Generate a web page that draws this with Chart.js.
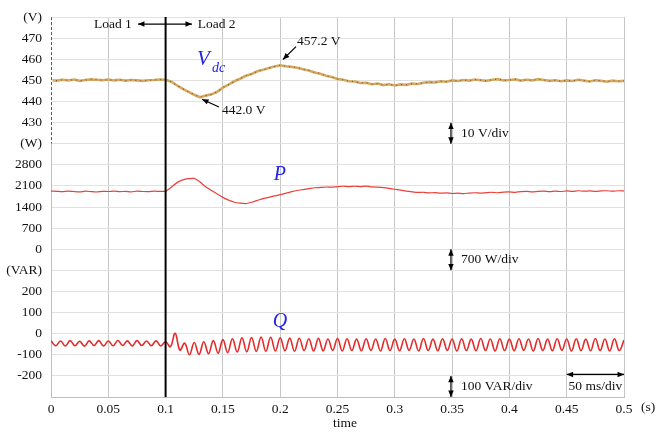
<!DOCTYPE html>
<html>
<head>
<meta charset="utf-8">
<title>Vdc, P and Q during a load change</title>
<script src="https://cdn.jsdelivr.net/npm/chart.js@4.4.1/dist/chart.umd.min.js"></script>
<style>
  html, body { margin: 0; padding: 0; background: #fff; }
  canvas { display: block; }
</style>
</head>
<body>
<canvas id="loadChart" width="656" height="434"></canvas>
<script>
// DC-link voltage (V), one sample every 5 ms from 0 to 0.5 s
const vdc = [
  450.1, 449.9, 450.3, 450.0, 450.4, 449.8, 450.2, 450.5, 450.3, 450.1,
  450.4, 450.0, 450.3, 449.9, 450.2, 450.0, 449.8, 450.1, 450.2, 450.4,
  450.3,
  449.4, 447.6, 446.0, 444.6, 443.2, 442.0, 442.8, 443.4, 444.6, 446.6,
  448.0, 449.6, 450.8, 452.2, 453.0, 454.3, 455.0, 455.9, 456.6, 457.2,
  456.7, 456.4, 456.0, 455.3, 454.7, 453.8, 453.2, 452.2, 451.6, 450.7,
  450.3, 449.6, 449.5, 448.8, 448.9, 448.2, 448.5, 447.8, 448.2, 447.6,
  448.1, 447.9, 448.5, 448.3, 448.9, 449.2, 449.0, 449.6, 449.4, 450.0,
  449.7, 450.2, 449.9, 450.4, 450.1, 449.8, 450.3, 450.6, 450.0, 450.2,
  450.5, 449.9, 450.3, 450.0, 450.6, 450.2, 449.8, 450.1, 449.6, 450.0,
  449.7, 450.3, 449.9, 449.5, 450.1, 449.8, 449.4, 449.9, 449.6, 449.8
];

// active power (W), same 5 ms sampling
const power = [
  1930, 1920, 1910, 1930, 1915, 1905, 1925, 1910, 1900, 1920,
  1915, 1930, 1910, 1920, 1905, 1925, 1915, 1910, 1925, 1920,
  1925,
  2060, 2210, 2300, 2340, 2350, 2230, 2070, 1950, 1830, 1720,
  1630, 1560, 1530, 1515, 1560, 1620, 1680, 1720, 1770, 1810,
  1860, 1910, 1950, 1980, 2010, 2040, 2050, 2065, 2060, 2080,
  2090, 2075, 2090, 2080, 2095, 2070, 2060, 2045, 2020, 1990,
  1960, 1930, 1905, 1885, 1890, 1870, 1880, 1860, 1870, 1850,
  1860, 1845, 1865, 1875, 1860, 1880, 1890, 1875, 1895, 1900,
  1890, 1910, 1920, 1900, 1920, 1930, 1910, 1925, 1915, 1935,
  1920, 1940, 1925, 1935, 1920, 1935, 1940, 1925, 1940, 1935
];

// reactive power (VAR): crest / trough of the 120 Hz ripple, every half period
const reactive = [
  -34, -57, -35, -58, -33, -57, -36, -59, -34, -56,
  -33, -58, -35, -57, -32, -56, -34, -58, -33, -56,
  -35, -57, -34, -58, -38,
  -62, 2, -78, -45, -100, -42, -98, -38, -95, -33,
  -92, -28, -90, -24, -87, -20, -86, -18, -84, -16,
  -83, -17, -82, -19, -81,
  -21, -83, -22, -80, -24, -82, -22, -81, -25, -79,
  -23, -82, -24, -80, -26, -81, -24, -79, -25, -82,
  -23, -80, -26, -81, -24, -79, -25, -82, -23, -80,
  -26, -81, -24, -79, -25, -82, -24, -80, -26, -81,
  -23, -80, -25, -82, -24, -80, -26, -81, -24, -79,
  -25, -82, -23, -80, -26, -81, -24, -79, -25, -82,
  -24, -80, -26, -81, -23, -80, -25, -82, -24, -80,
  -30
];

const sampleStep = 0.005;   // s, Vdc and P
const rippleStep = 1 / 240; // s, Q
const loadStep = 0.1;       // s, switch from load 1 to load 2

const timeTicks = ['0', '0.05', '0.1', '0.15', '0.2', '0.25', '0.3', '0.35', '0.4', '0.45', '0.5'];
// left axis text, one per grid row, from the bottom row to the top row
const rowLabels = ['', '-200', '-100', '0', '100', '200', '(VAR)', '0', '700', '1400', '2100',
  '2800', '(W)', '430', '440', '450', '460', '470', '(V)'];

const SERIF = '"Liberation Serif", "Times New Roman", serif';
const BLUE = '#2323e6';

const asPoints = (values, step) => values.map((v, i) => ({ x: i * step, y: v }));

function arrowHead(ctx, x1, y1, x2, y2, size) {
  const a = Math.atan2(y2 - y1, x2 - x1);
  ctx.beginPath();
  ctx.moveTo(x2, y2);
  ctx.lineTo(x2 - size * Math.cos(a - 0.4), y2 - size * Math.sin(a - 0.4));
  ctx.lineTo(x2 - size * Math.cos(a + 0.4), y2 - size * Math.sin(a + 0.4));
  ctx.closePath();
  ctx.fill();
}

function arrow(ctx, x1, y1, x2, y2, both) {
  ctx.beginPath();
  ctx.moveTo(x1, y1);
  ctx.lineTo(x2, y2);
  ctx.stroke();
  arrowHead(ctx, x1, y1, x2, y2, 7);
  if (both) arrowHead(ctx, x2, y2, x1, y1, 7);
}

// load switch line, arrows, trace names and scale notes
const overlay = {
  id: 'overlay',
  afterDatasetsDraw(chart) {
    const { ctx, scales } = chart;
    const X = t => scales.x.getPixelForValue(t);
    const Y = r => scales.row.getPixelForValue(r);
    ctx.save();

    // dashed left edge of the voltage band
    const x0 = Math.round(X(0)) + 0.5;
    ctx.fillStyle = '#fff';
    ctx.fillRect(x0 - 1, Y(18), 2, Y(12) - Y(18));
    ctx.strokeStyle = '#555';
    ctx.lineWidth = 1;
    ctx.setLineDash([3, 2]);
    ctx.beginPath();
    ctx.moveTo(x0, Y(18));
    ctx.lineTo(x0, Y(12));
    ctx.stroke();
    ctx.setLineDash([]);

    // load change
    ctx.strokeStyle = '#000';
    ctx.lineWidth = 2;
    ctx.beginPath();
    ctx.moveTo(X(loadStep), Y(18));
    ctx.lineTo(X(loadStep), Y(0));
    ctx.stroke();

    ctx.fillStyle = '#000';
    ctx.lineWidth = 1.2;
    arrow(ctx, X(0.0759), Y(17.67), X(0.123), Y(17.67), true);

    ctx.font = `13.5px ${SERIF}`;
    ctx.textBaseline = 'middle';
    ctx.fillStyle = '#111';
    ctx.textAlign = 'right';
    ctx.fillText('Load 1', X(0.0705), Y(17.67));
    ctx.textAlign = 'left';
    ctx.fillText('Load 2', X(0.128), Y(17.67));

    // extreme values of Vdc
    ctx.fillText('457.2 V', X(0.2147), Y(16.83));
    ctx.fillText('442.0 V', X(0.1492), Y(13.56));
    ctx.fillStyle = '#000';
    arrow(ctx, X(0.2138), Y(16.6), X(0.2024), Y(15.99), false);
    arrow(ctx, X(0.1466), Y(13.74), X(0.1318), Y(14.11), false);

    // per-division notes
    const xNote = X(0.349);
    arrow(ctx, xNote, Y(13), xNote, Y(12), true);
    arrow(ctx, xNote, Y(7), xNote, Y(6), true);
    arrow(ctx, xNote, Y(1), xNote, Y(0), true);
    arrow(ctx, X(0.45), Y(1.07), X(0.5), Y(1.07), true);
    ctx.fillStyle = '#111';
    ctx.fillText('10 V/div', X(0.3578), Y(12.5));
    ctx.fillText('700 W/div', X(0.3578), Y(6.5));
    ctx.fillText('100 VAR/div', X(0.3578), Y(0.5));
    ctx.textAlign = 'center';
    ctx.fillText('50 ms/div', X(0.475), Y(0.5));

    // axis unit and title
    ctx.fillText('(s)', X(0.521), Y(-0.51));
    ctx.fillText('time', X(0.2565), Y(-1.26));

    // trace names
    ctx.fillStyle = BLUE;
    ctx.textAlign = 'left';
    ctx.font = `italic 21px ${SERIF}`;
    ctx.fillText('V', X(0.1274), Y(15.99));
    ctx.font = `italic 14px ${SERIF}`;
    ctx.fillText('dc', X(0.1405), Y(15.55));
    ctx.textAlign = 'center';
    ctx.font = `italic 20px ${SERIF}`;
    ctx.fillText('P', X(0.1998), Y(10.52));
    ctx.fillText('Q', X(0.1998), Y(3.55));

    ctx.restore();
  }
};

new Chart(document.getElementById('loadChart'), {
  type: 'line',
  data: {
    datasets: [
      {
        // dark specks drawn over the tan trace
        label: 'Vdc samples',
        data: asPoints(vdc, sampleStep),
        yAxisID: 'yV',
        borderColor: '#7f5a2e',
        borderWidth: 1.2,
        borderDash: [1, 4],
        tension: 0
      },
      {
        label: 'Vdc',
        data: asPoints(vdc, sampleStep),
        yAxisID: 'yV',
        borderColor: '#d6a961',
        borderWidth: 2.6,
        tension: 0
      },
      {
        label: 'P',
        data: asPoints(power, sampleStep),
        yAxisID: 'yP',
        borderColor: '#e8413a',
        borderWidth: 1.2,
        tension: 0.2
      },
      {
        label: 'Q',
        data: asPoints(reactive, rippleStep),
        yAxisID: 'yQ',
        borderColor: '#e52a2a',
        borderWidth: 1.6,
        tension: 0.4
      }
    ]
  },
  options: {
    responsive: false,
    animation: false,
    events: [],
    elements: { point: { radius: 0 } },
    layout: { padding: { top: 12, right: 32, left: 0, bottom: 0 } },
    plugins: { legend: { display: false }, tooltip: { enabled: false } },
    scales: {
      x: {
        type: 'linear',
        min: 0,
        max: 0.5,
        afterBuildTicks: scale => { scale.ticks = timeTicks.map(v => ({ value: Number(v) })); },
        afterFit: scale => { scale.height = 37; },
        ticks: {
          callback: (v, i) => timeTicks[i],
          font: { family: SERIF, size: 13.5 },
          color: '#111',
          padding: 4,
          maxRotation: 0
        },
        grid: { color: '#c6c6c6', drawTicks: false },
        border: { color: '#bdbdbd' }
      },
      row: {
        type: 'linear',
        position: 'left',
        min: 0,
        max: rowLabels.length - 1,
        afterFit: scale => { scale.width = 51; },
        ticks: {
          stepSize: 1,
          callback: v => rowLabels[Math.round(v)],
          font: { family: SERIF, size: 13.5 },
          color: '#111',
          padding: 9
        },
        grid: { color: '#e1e1e1', drawTicks: false },
        border: { color: '#bdbdbd' }
      },
      // 10 V, 700 W and 100 VAR per grid row
      yV: { display: false, min: 300, max: 480 },
      yP: { display: false, min: -4900, max: 7700 },
      yQ: { display: false, min: -300, max: 1500 }
    }
  },
  plugins: [overlay]
});
</script>
</body>
</html>
